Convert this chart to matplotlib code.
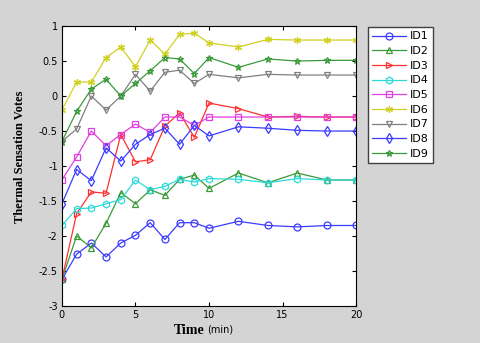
import numpy as np
import matplotlib
matplotlib.use("Agg")
import matplotlib.pyplot as plt

t = [0, 1, 2, 3, 4, 5, 6, 7, 8, 9, 10, 12, 14, 16, 18, 20]
id1 = [-2.62, -2.26, -2.1, -2.3, -2.1, -1.99, -1.81, -2.05, -1.81, -1.81, -1.89, -1.79, -1.85, -1.87, -1.85, -1.85]
id2 = [-2.62, -2.0, -2.17, -1.82, -1.38, -1.54, -1.34, -1.42, -1.19, -1.13, -1.32, -1.1, -1.24, -1.1, -1.2, -1.2]
id3 = [-2.62, -1.68, -1.37, -1.39, -0.55, -0.94, -0.91, -0.43, -0.24, -0.59, -0.1, -0.18, -0.3, -0.29, -0.3, -0.3]
id4 = [-1.85, -1.61, -1.6, -1.54, -1.48, -1.2, -1.34, -1.29, -1.19, -1.23, -1.18, -1.19, -1.24, -1.18, -1.2, -1.2]
id5 = [-1.2, -0.87, -0.5, -0.71, -0.55, -0.4, -0.52, -0.3, -0.3, -0.42, -0.3, -0.3, -0.3, -0.3, -0.3, -0.3]
id6 = [-0.2, 0.2, 0.2, 0.55, 0.7, 0.42, 0.8, 0.6, 0.88, 0.9, 0.76, 0.7, 0.81, 0.8, 0.8, 0.8]
id7 = [-0.65, -0.47, 0.0, -0.2, 0.0, 0.31, 0.07, 0.34, 0.37, 0.18, 0.31, 0.26, 0.31, 0.3, 0.3, 0.3]
id8 = [-1.54, -1.05, -1.21, -0.74, -0.93, -0.69, -0.55, -0.46, -0.69, -0.42, -0.57, -0.44, -0.46, -0.49, -0.5, -0.5]
id9 = [-0.65, -0.22, 0.1, 0.24, 0.0, 0.18, 0.36, 0.55, 0.53, 0.32, 0.55, 0.41, 0.53, 0.5, 0.51, 0.51]
labels = ["ID1", "ID2", "ID3", "ID4", "ID5", "ID6", "ID7", "ID8", "ID9"]

series = [id1, id2, id3, id4, id5, id6, id7, id8, id9]
colors = ["#3b3bff", "#3a9a3a", "#ff3030", "#30d8d8", "#e040e0", "#d0d020", "#808080", "#3b3bff", "#3a9a3a"]
markers = ["o", "^", ">", "h", "s", (6, 2, 0), "v", "d", "*"]

fig = plt.figure(figsize=(4.8, 3.43), dpi=100)
fig.patch.set_facecolor("#d4d4d4")
ax = fig.add_axes([0.129, 0.108, 0.613, 0.816])
for y, c, m, lab in zip(series, colors, markers, labels):
    ax.plot(t, y, color=c, marker=m, mfc="none", mec=c, ms=5, lw=0.9, mew=0.9, label=lab)

ax.set_xlim(0, 20)
ax.set_ylim(-3, 1)
ax.set_xticks([0, 5, 10, 15, 20])
ax.set_yticks([-3, -2.5, -2, -1.5, -1, -0.5, 0, 0.5, 1])
ax.set_yticklabels(["-3", "-2.5", "-2", "-1.5", "-1", "-0.5", "0", "0.5", "1"])
ax.tick_params(direction="in", labelsize=7, length=3, top=True, right=True, labeltop=False, labelright=False, pad=3)

leg = fig.legend(loc="upper left", bbox_to_anchor=(368 / 480, 1 - 27 / 343), fontsize=8,
                 frameon=True, fancybox=False, handlelength=3.0, labelspacing=0.42,
                 borderpad=0.4, handletextpad=0.35, borderaxespad=0, framealpha=1)
leg.get_frame().set_edgecolor("#404040")
leg.get_frame().set_facecolor("white")
leg.get_frame().set_linewidth(1.0)

fig.text(20 / 480, 1 - 157 / 343, "Thermal Sensation Votes", rotation=90, ha="center", va="center",
         family="Liberation Serif", fontweight="bold", fontsize=9)
fig.text(205 / 480, 1 - 330 / 343, "Time", ha="right", va="center",
         family="Liberation Serif", fontweight="bold", fontsize=10)
fig.text(207 / 480, 1 - 330 / 343, "(min)", ha="left", va="center", fontsize=7)

fig.savefig("out.png", dpi=100, facecolor=fig.get_facecolor())
